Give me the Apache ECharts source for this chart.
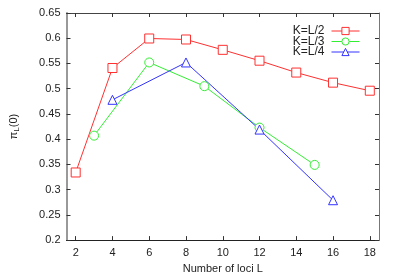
<!DOCTYPE html>
<html><head><meta charset="utf-8">
<script src="https://cdn.jsdelivr.net/npm/echarts@6/dist/echarts.min.js"></script>
<style>html,body{margin:0;padding:0;background:#fff}#c{width:399px;height:279px}</style>
</head><body><div id="c"></div>
<script>
var xL2 = [2, 4, 6, 8, 10, 12, 14, 16, 18];
var yL2 = [0.334, 0.541, 0.5995, 0.5975, 0.577, 0.5555, 0.532, 0.512, 0.496];
var xL3 = [3, 6, 9, 12, 15];
var yL3 = [0.407, 0.552, 0.505, 0.423, 0.349];
var xL4 = [4, 8, 12, 16];
var yL4 = [0.478, 0.552, 0.419, 0.279];
var xTicks = [2, 4, 6, 8, 10, 12, 14, 16, 18];
var names = ['K=L/2', 'K=L/3', 'K=L/4'];

function pairs(xs, ys) { return xs.map(function (x, i) { return [x, ys[i]]; }); }
var font = 'Liberation Sans, Arial, sans-serif';
var chart = echarts.init(document.getElementById('c'));
var tickStyle = { show: true, inside: true, length: 4, lineStyle: { color: '#333' } };
var legendTops = [20, 30.5, 41];
var legends = names.map(function (n, i) {
  return {
    orient: 'vertical', right: 34, top: legendTops[i], align: 'right',
    itemWidth: 28, itemHeight: 9, itemGap: 0,
    lineStyle: { width: 1 }, itemStyle: { borderWidth: 1 },
    textStyle: { fontFamily: font, fontSize: 12, color: '#222', padding: [0, 2, 0, 0] },
    data: [n]
  };
});
chart.setOption({
  animation: false,
  grid: { left: 58, right: 20, top: 13, bottom: 34 },
  legend: legends,
  xAxis: [{
    type: 'value', min: 1.5, max: 18.5,
    name: 'Number of loci L', nameLocation: 'middle', nameGap: 21,
    nameTextStyle: { fontFamily: font, fontSize: 11, color: '#222' },
    axisLine: { lineStyle: { color: '#222', width: 1 } },
    axisTick: Object.assign({ customValues: xTicks }, tickStyle),
    axisLabel: { customValues: xTicks, fontFamily: font, fontSize: 11, color: '#222', margin: 7 },
    splitLine: { show: false }
  }, {
    type: 'value', min: 1.5, max: 18.5, position: 'top',
    axisLine: { lineStyle: { color: '#444', width: 1 } },
    axisTick: Object.assign({ customValues: xTicks }, tickStyle),
    axisLabel: { show: false }, splitLine: { show: false }
  }],
  yAxis: [{
    type: 'value', min: 0.2, max: 0.65, interval: 0.05,
    name: '{a|π}{b|L}{a|(0)}', nameLocation: 'middle', nameGap: 46, nameRotate: 90,
    nameTextStyle: {
      fontFamily: font, color: '#222',
      rich: {
        a: { fontFamily: font, fontSize: 11, color: '#222' },
        b: { fontFamily: font, fontSize: 8, color: '#222', padding: [6, 0, 0, 0] }
      }
    },
    axisLine: { lineStyle: { color: '#999', width: 2 } },
    axisTick: tickStyle,
    axisLabel: { fontFamily: font, fontSize: 11, color: '#222', margin: 6 },
    splitLine: { show: false }
  }, {
    type: 'value', min: 0.2, max: 0.65, interval: 0.05, position: 'right',
    axisLine: { show: true, lineStyle: { color: '#777', width: 1 } },
    axisTick: tickStyle, axisLabel: { show: false }, splitLine: { show: false }
  }],
  series: [{
    name: names[0], type: 'line', data: pairs(xL2, yL2),
    symbol: 'rect', symbolSize: 9, showAllSymbol: true,
    lineStyle: { color: '#ff3030', width: 1 },
    itemStyle: { color: '#fff', borderColor: '#ff3030', borderWidth: 1 }
  }, {
    name: names[1], type: 'line', data: pairs(xL3, yL3),
    symbol: 'circle', symbolSize: 9, showAllSymbol: true,
    lineStyle: { color: '#33ee33', width: 1 },
    itemStyle: { color: '#fff', borderColor: '#33ee33', borderWidth: 1 }
  }, {
    name: names[2], type: 'line', data: pairs(xL4, yL4),
    symbol: 'triangle', symbolSize: 9, showAllSymbol: true,
    lineStyle: { color: '#3333ff', width: 1 },
    itemStyle: { color: '#fff', borderColor: '#3333ff', borderWidth: 1 }
  }]
});
</script></body></html>
